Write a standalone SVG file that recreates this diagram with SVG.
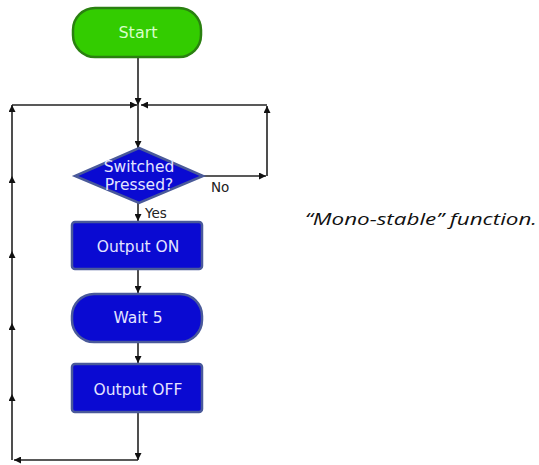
<svg xmlns="http://www.w3.org/2000/svg" width="539" height="465" viewBox="0 0 539 465">
<defs>
<style>
.blue{fill:#0a0ad2;stroke:#4a5a9a;stroke-width:2.5}
.green{fill:#33cc00;stroke:#2a8010;stroke-width:2.5}
.lbl{font-family:"DejaVu Sans",Verdana,sans-serif;font-size:15.5px;fill:#e4e4ff;text-anchor:middle}
.glbl{font-family:"DejaVu Sans",Verdana,sans-serif;font-size:16px;fill:#d8ffc8;text-anchor:middle}
.side{font-family:"DejaVu Sans",Verdana,sans-serif;font-size:13.5px;fill:#222}
.ln{fill:none;stroke:#222;stroke-width:1.6}
</style>
<marker id="ah" viewBox="0 0 10 10" refX="10" refY="5" markerWidth="7" markerHeight="7" markerUnits="userSpaceOnUse" orient="auto">
<path d="M0,0 L10,5 L0,10 Z" fill="#111"/>
</marker>
</defs>
<rect width="539" height="465" fill="#ffffff"/>
<g id="connectors">
<path class="ln" d="M138,57 V105" marker-end="url(#ah)"/>
<path class="ln" d="M12,105 H137" marker-end="url(#ah)"/>
<path class="ln" d="M267,105 H141" marker-end="url(#ah)"/>
<path class="ln" d="M138,105 V148" marker-end="url(#ah)"/>
<path class="ln" d="M203,176 H266" marker-end="url(#ah)"/>
<path class="ln" d="M267,176 V106" marker-end="url(#ah)"/>
<path class="ln" d="M138,203 V221" marker-end="url(#ah)"/>
<path class="ln" d="M138,269 V293" marker-end="url(#ah)"/>
<path class="ln" d="M138,342 V363" marker-end="url(#ah)"/>
<path class="ln" d="M138,413 V460" marker-end="url(#ah)"/>
<path class="ln" d="M138,460 H14" marker-end="url(#ah)"/>
<path class="ln" d="M12,460 V394" marker-end="url(#ah)"/>
<path class="ln" d="M12,394 V323" marker-end="url(#ah)"/>
<path class="ln" d="M12,323 V251" marker-end="url(#ah)"/>
<path class="ln" d="M12,251 V176" marker-end="url(#ah)"/>
<path class="ln" d="M12,176 V105" marker-end="url(#ah)"/>
<text class="side" x="211" y="192">No</text>
<text class="side" x="145" y="218">Yes</text>
</g>
<g id="start">
<rect class="green" x="73" y="8" width="128" height="49" rx="22" ry="22"/>
<text class="glbl" x="138" y="38">Start</text>
</g>
<g id="decision">
<polygon class="blue" points="139,148 203,176 139,203 75,176"/>
<text class="lbl" x="139" y="172">Switched</text>
<text class="lbl" x="139" y="190">Pressed?</text>
</g>
<g id="output-on">
<rect class="blue" x="72" y="222" width="130" height="47" rx="3"/>
<text class="lbl" x="138" y="252">Output ON</text>
</g>
<g id="wait">
<rect class="blue" x="72" y="294" width="130" height="48" rx="22" ry="22"/>
<text class="lbl" x="138" y="323">Wait 5</text>
</g>
<g id="output-off">
<rect class="blue" x="72" y="364" width="130" height="48" rx="3"/>
<text class="lbl" x="138" y="395">Output OFF</text>
</g>
<g id="caption">
<text x="305" y="225" font-family="'Open Sans','Liberation Sans',sans-serif" font-style="italic" font-size="16.5" fill="#111" textLength="232" lengthAdjust="spacingAndGlyphs">“Mono-stable” function.</text>
</g>
</svg>
